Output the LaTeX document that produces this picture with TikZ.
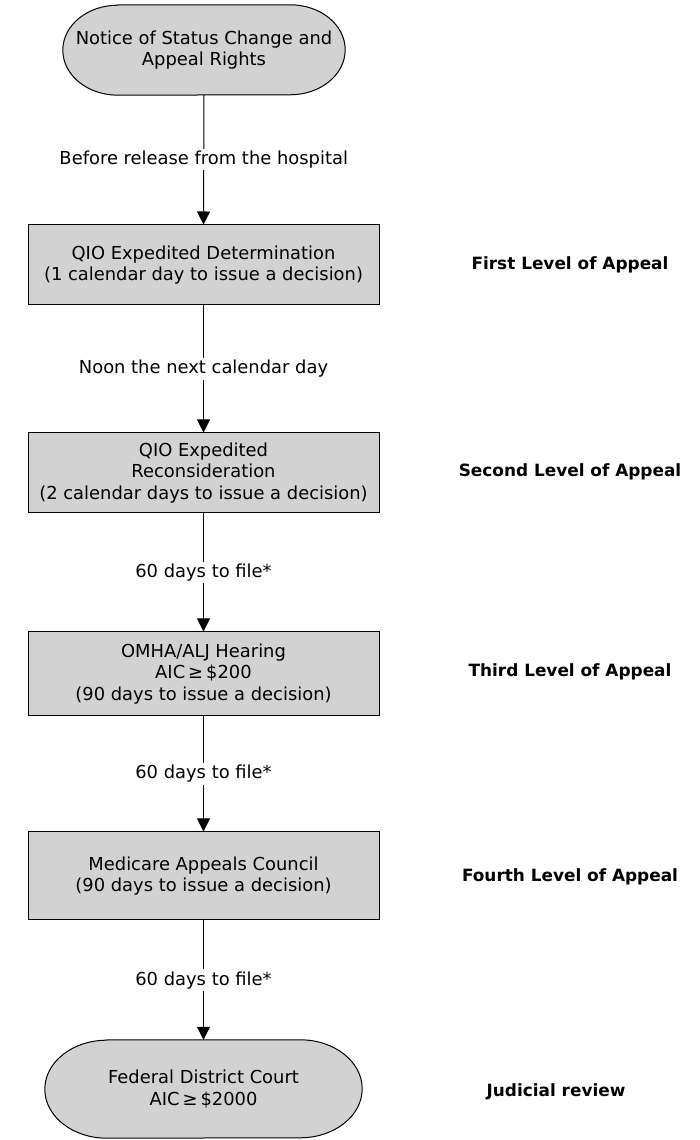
\documentclass[tikz,border=0pt]{standalone}
\usepackage{fontspec}
\setmainfont{DejaVu Sans}
\usetikzlibrary{arrows.meta}
\definecolor{boxfill}{HTML}{D2D2D2}
\newcommand{\bodyfont}{\fontsize{17.9}{21.5}\selectfont}
\tikzset{
  stepbox/.style={draw=black, line width=1pt, fill=boxfill, minimum width=351pt, inner sep=0pt, align=center, font=\bodyfont},
  termnode/.style={draw=none, inner sep=0pt, align=center, font=\bodyfont},
  termpath/.style={draw=black, line width=1pt, fill=boxfill},
  arr/.style={line width=1pt, -{Triangle[width=13pt,length=13pt]}},
  lab/.style={fill=white, inner sep=2pt, font=\bodyfont},
  level/.style={font=\bfseries\fontsize{16.9}{21}\selectfont, anchor=center}
}
\begin{document}
\begin{tikzpicture}[x=1pt,y=1pt]
\useasboundingbox (0,0) rectangle (700,1140);
% terminals (invisible nodes, shapes drawn below)
\node[termnode, minimum width=282pt, minimum height=90pt] (t1) at (204,1090) {};
\node[termnode, minimum width=317pt, minimum height=98pt] (t2) at (203.5,51) {};
\path[termpath] ([xshift=55pt]t1.north west) -- ([xshift=-55pt]t1.north east)
  arc[start angle=90, end angle=-90, x radius=55pt, y radius=45pt]
  -- ([xshift=55pt]t1.south west)
  arc[start angle=270, end angle=90, x radius=55pt, y radius=45pt] -- cycle;
\path[termpath] ([xshift=62pt]t2.north west) -- ([xshift=-62pt]t2.north east)
  arc[start angle=90, end angle=-90, x radius=62pt, y radius=49pt]
  -- ([xshift=62pt]t2.south west)
  arc[start angle=270, end angle=90, x radius=62pt, y radius=49pt] -- cycle;
\node[termnode] (t1text) at (t1) {Notice of Status Change and\\Appeal Rights};
\node[termnode] (t2text) at (t2) {Federal District Court\\AIC\,≥\,\$2000};
% boxes
\node[stepbox, minimum height=80pt] (b1) at (203.5,875) {QIO Expedited Determination\\(1 calendar day to issue a decision)};
\node[stepbox, minimum height=80pt] (b2) at (203.5,667) {QIO Expedited\\Reconsideration\\(2 calendar days to issue a decision)};
\node[stepbox, minimum height=84pt] (b3) at (203.5,466) {OMHA/ALJ Hearing\\AIC\,≥\,\$200\\(90 days to issue a decision)};
\node[stepbox, minimum height=88pt] (b4) at (203.5,264) {Medicare Appeals Council\\(90 days to issue a decision)};
% connectors
\draw[arr] (t1.south) -- (b1.north) node[midway, lab] {Before release from the hospital};
\draw[arr] (b1.south) -- (b2.north) node[midway, lab] {Noon the next calendar day};
\draw[arr] (b2.south) -- (b3.north) node[midway, lab] {60 days to file*};
\draw[arr] (b3.south) -- (b4.north) node[midway, lab] {60 days to file*};
\draw[arr] (b4.south) -- (t2.north) node[midway, lab] {60 days to file*};
% level labels
\node[level] (l1) at (570,875) {First Level of Appeal};
\node[level] (l2) at (570,668) {Second Level of Appeal};
\node[level] (l3) at (570,468) {Third Level of Appeal};
\node[level] (l4) at (570,263) {Fourth Level of Appeal};
\node[level] (l5) at (556,48) {Judicial review};
\end{tikzpicture}
\end{document}
